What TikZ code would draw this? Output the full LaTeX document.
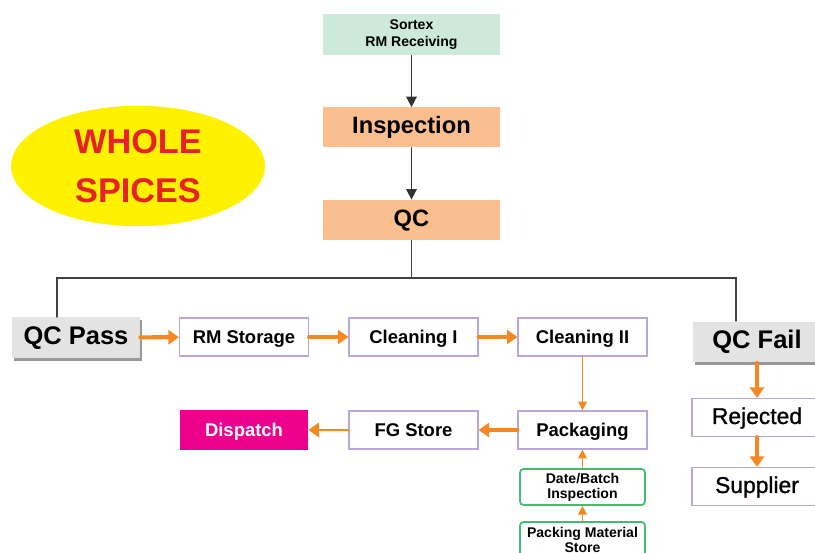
\documentclass[tikz,border=0pt]{standalone}
\usepackage{fontspec}
\setmainfont{Liberation Sans}
\usetikzlibrary{shapes.geometric,arrows.meta,shadows}

\definecolor{sortexgreen}{HTML}{CDE9D9}
\definecolor{peach}{HTML}{FBBF8F}
\definecolor{lavender}{HTML}{B9A6DA}
\definecolor{floworange}{HTML}{F7871F}
\definecolor{spiceyellow}{HTML}{FFF200}
\definecolor{spicered}{HTML}{E8202A}
\definecolor{magenta}{HTML}{EC008C}
\definecolor{boxgreen}{HTML}{3DBF6E}

\tikzset{
  stepbox/.style={draw=lavender, line width=0.7pt, fill=white, minimum width=2.58cm, minimum height=0.76cm, inner sep=1pt,
    text height=1.6ex, text depth=0.2ex, font=\bfseries\fontsize{10.5}{12}\selectfont},
  headbox/.style={fill=peach, minimum width=3.54cm, minimum height=0.8cm, text height=1.5ex, text depth=0.1ex,
    font=\bfseries\fontsize{13.5}{15}\selectfont},
  resultbox/.style={fill=gray!22, minimum width=2.56cm, minimum height=0.82cm, text height=1.6ex, text depth=0.1ex,
    font=\bfseries\fontsize{14.5}{16}\selectfont,
    drop shadow={shadow xshift=1.2pt, shadow yshift=-1.5pt, fill=gray!80, opacity=1}},
  notebox/.style={draw=boxgreen, line width=1pt, rounded corners=2pt, fill=white, minimum width=2.5cm, minimum height=0.72cm,
    inner sep=0pt, align=center, font=\bfseries\fontsize{8}{8.5}\selectfont},
  darrow/.style={draw=black!80, line width=0.8pt, -{Triangle[width=6pt,length=6pt]}},
  thickflow/.style={draw=floworange, line width=2.3pt, -{Triangle[width=8pt,length=6pt]}},
  thinflow/.style={draw=floworange, line width=0.8pt, -{Triangle[width=5pt,length=5pt]}},
}

\begin{document}
\begin{tikzpicture}[x=0.02cm, y=-0.02cm, line cap=round]
  \clip (0,0) rectangle (815,553);
  \useasboundingbox (0,0) rectangle (815,553);

  % title oval
  \node[ellipse, fill=spiceyellow, minimum width=5.08cm, minimum height=2.28cm, align=center,
        text=spicered, font=\bfseries\fontsize{19.5}{28}\selectfont] (title) at (138,166) {WHOLE\\SPICES};

  % receiving chain
  \node[fill=sortexgreen, minimum width=3.54cm, minimum height=0.78cm, align=center,
        font=\bfseries\fontsize{8}{9.6}\selectfont] (sortex) at (411.5,34.5) {Sortex\\RM Receiving};
  \node[headbox] (insp) at (411.5,127.5) {Inspection};
  \node[headbox] (qc) at (411.5,220) {QC};
  \draw[darrow] (sortex) -- (insp);
  \draw[darrow] (insp) -- (qc);

  % pass / fail
  \node[resultbox] (pass) at (76,337.5) {QC Pass};
  \node[resultbox] (fail) at (757,342) {QC Fail};
  \coordinate (split) at (411.5,278);
  \coordinate (passtop) at (57,317);
  \coordinate (failtop) at (736,321);
  \draw[black!75, line width=0.8pt] (qc.south) -- (split) -| (passtop);
  \draw[black!75, line width=0.8pt] (split) -| (failtop);

  % process line
  \node[stepbox] (rmstore) at (244,337) {RM Storage};
  \node[stepbox] (clean1) at (413.5,337) {Cleaning I};
  \node[stepbox] (clean2) at (582.5,337) {Cleaning II};
  \node[stepbox] (pack) at (582.5,430) {Packaging};
  \node[stepbox] (fgstore) at (413.5,430) {FG Store};
  \node[fill=magenta, text=white, minimum width=2.56cm, minimum height=0.8cm, text height=1.6ex, text depth=0.2ex,
        font=\bfseries\fontsize{10.5}{12}\selectfont] (dispatch) at (244,430) {Dispatch};
  \node[notebox] (batch) at (582.5,487) {Date/Batch\\Inspection};
  \node[notebox] (pmstore) at (582.5,540) {Packing Material\\Store};

  \draw[thickflow] (pass) -- (rmstore);
  \draw[thickflow] (rmstore) -- (clean1);
  \draw[thickflow] (clean1) -- (clean2);
  \draw[thinflow] (clean2) -- (pack);
  \draw[thickflow] (pack) -- (fgstore);
  \draw[thickflow, line width=1.6pt] (fgstore) -- (dispatch);
  \draw[thinflow] (batch) -- (pack);
  \draw[thinflow] (pmstore) -- (batch);

  % fail branch
  \node[stepbox, minimum width=2.6cm, font=\fontsize{13}{15}\selectfont\addfontfeature{FakeBold=1}] (reject) at (757,417.5) {Rejected};
  \node[stepbox, minimum width=2.6cm, font=\fontsize{13}{15}\selectfont\addfontfeature{FakeBold=1}] (supplier) at (757,486.5) {Supplier};
  \draw[thickflow] (fail) -- (reject);
  \draw[thickflow] (reject) -- (supplier);
\end{tikzpicture}
\end{document}
